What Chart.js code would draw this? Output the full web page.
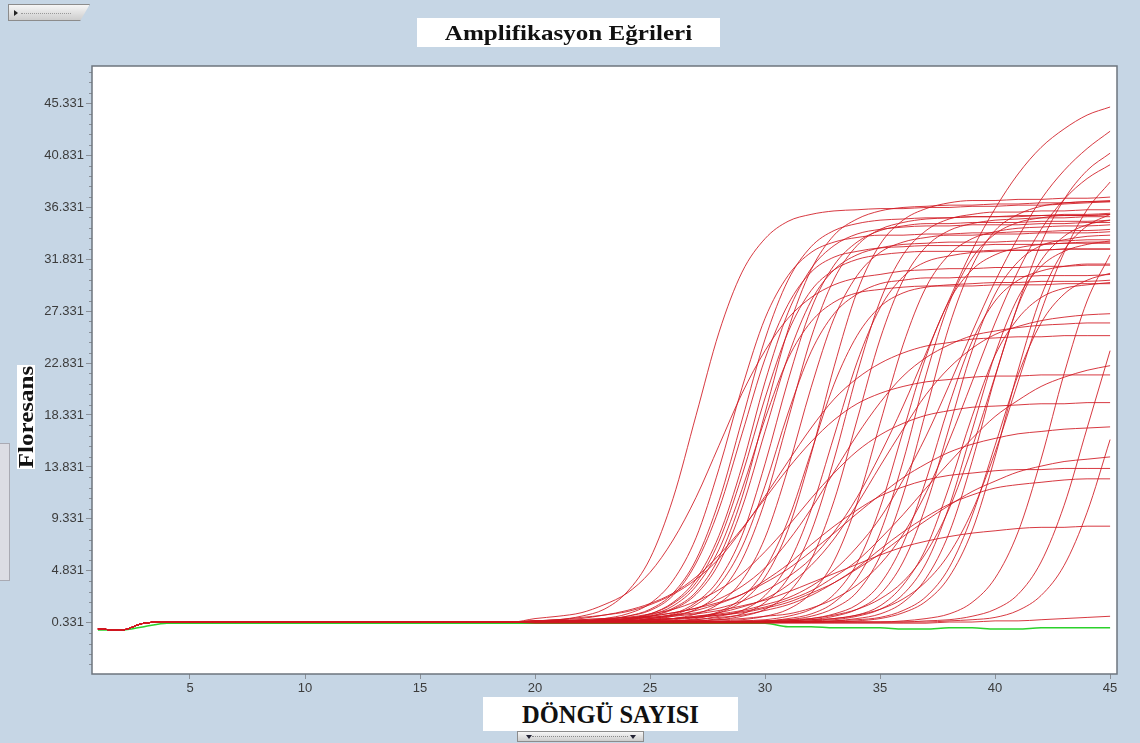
<!DOCTYPE html>
<html>
<head>
<meta charset="utf-8">
<script src="https://cdn.jsdelivr.net/npm/chart.js@4.4.1/dist/chart.umd.min.js"></script>
<style>
  html, body { margin: 0; padding: 0; }
  body {
    width: 1140px; height: 743px; overflow: hidden; position: relative;
    background: #c6d6e5; font-family: "Liberation Serif", "DejaVu Serif", serif;
  }
  #myChart { position: absolute; left: 0; top: 0; }
  .box { position: absolute; background: #fff; color: #111; font-weight: bold; text-align: center; white-space: nowrap; }
  #title { left: 417px; top: 18px; width: 303px; height: 29px; }
  #title span { display: inline-block; font-size: 22px; line-height: 30px; transform: scaleX(1.14); }
  #xlabel { left: 483px; top: 697px; width: 255px; height: 34px; font-size: 24.5px; line-height: 36px; }
  #ylabel { left: 17px; top: 365px; width: 18px; height: 104px; }
  #ylabel span {
    position: absolute; left: 50%; top: 50%; font-size: 20px;
    transform: translate(-50%, -50%) rotate(-90deg) scaleX(1.25);
  }
  .tab { position: absolute; background: linear-gradient(#f6f6f6, #cdcdcd); border: 1px solid #8c8c8c; }
  #topTab { left: 8px; top: 4px; width: 80px; height: 15px; clip-path: polygon(0 0, 100% 0, 88% 100%, 0 100%); }
  #topTab .arrow { position: absolute; left: 5px; top: 5px; width: 0; height: 0;
    border-top: 3px solid transparent; border-bottom: 3px solid transparent; border-left: 4px solid #222; }
  #topTab .dots { position: absolute; left: 12px; top: 8px; width: 50px; border-top: 1px dotted #999; }
  #bottomTab { left: 517px; top: 731px; width: 125px; height: 9px; }
  #bottomTab .arrow { position: absolute; top: 3px; width: 0; height: 0;
    border-left: 3px solid transparent; border-right: 3px solid transparent; border-top: 4px solid #223; }
  #bottomTab .dots { position: absolute; left: 14px; top: 4px; width: 96px; border-top: 1px dotted #888; }
  #sideBar { position: absolute; left: 0; top: 443px; width: 9px; height: 136px; background: #dcdde4; border: 1px solid #a9aab3; border-left: none; }
</style>
</head>
<body>
<canvas id="myChart" width="1140" height="743"></canvas>
<div class="tab" id="topTab"><div class="arrow"></div><div class="dots"></div></div>
<div class="box" id="title"><span>Amplifikasyon Eğrileri</span></div>
<div class="box" id="ylabel"><span>Floresans</span></div>
<div class="box" id="xlabel">DÖNGÜ SAYISI</div>
<div class="tab" id="bottomTab"><div class="arrow" style="left:8px"></div><div class="dots"></div><div class="arrow" style="left:112px"></div></div>
<div id="sideBar"></div>
<script>
// cycle numbers 1..45
const cycles = [1, 2, 3, 4, 5, 6, 7, 8, 9, 10, 11, 12, 13, 14, 15, 16, 17, 18, 19, 20, 21, 22, 23,
  24, 25, 26, 27, 28, 29, 30, 31, 32, 33, 34, 35, 36, 37, 38, 39, 40, 41, 42, 43, 44, 45];

// common flat start of every sample, cycles 1..19
const baselineStart = [-0.2, -0.3, 0.3, 0.4, 0.4, 0.4, 0.4, 0.4, 0.4, 0.4, 0.4, 0.4, 0.4, 0.4, 0.4, 0.4, 0.4, 0.4, 0.4];

// fluorescence of each sample for cycles 20..45
const sampleRuns = [
  [0.5, 0.6, 0.9, 1.5, 3.0, 5.9, 11.1, 18.3, 25.5, 30.7, 33.6, 35.1, 35.7, 36.0, 36.1, 36.2, 36.2, 36.3, 36.3, 36.4, 36.4, 36.5, 36.5, 36.6, 36.7, 36.8],
  [0.7, 0.9, 1.2, 1.9, 2.9, 4.7, 7.5, 11.2, 15.7, 20.2, 23.9, 26.7, 28.5, 29.6, 30.2, 30.5, 30.8, 30.9, 31.0, 31.0, 31.1, 31.1, 31.2, 31.2, 31.3, 31.3],
  [0.4, 0.5, 0.5, 0.7, 1.1, 2.0, 4.0, 7.7, 13.7, 20.7, 26.7, 30.4, 32.4, 33.3, 33.7, 33.9, 33.9, 34.0, 34.0, 34.1, 34.1, 34.2, 34.2, 34.3, 34.3, 34.4],
  [0.4, 0.4, 0.5, 0.6, 0.9, 1.4, 2.7, 5.5, 10.2, 16.7, 23.2, 27.9, 30.7, 32.0, 32.5, 32.8, 32.9, 33.0, 33.0, 33.0, 33.1, 33.1, 33.1, 33.2, 33.2, 33.2],
  [0.4, 0.4, 0.5, 0.6, 0.9, 1.5, 2.9, 5.8, 10.9, 17.9, 24.9, 30.0, 32.9, 34.3, 34.9, 35.2, 35.3, 35.4, 35.4, 35.5, 35.5, 35.5, 35.6, 35.6, 35.6, 35.7],
  [0.4, 0.4, 0.5, 0.5, 0.7, 1.0, 1.8, 3.5, 6.7, 11.9, 18.0, 23.2, 26.4, 28.1, 28.9, 29.2, 29.4, 29.5, 29.5, 29.5, 29.6, 29.6, 29.6, 29.7, 29.7, 29.7],
  [0.4, 0.4, 0.5, 0.5, 0.7, 1.1, 2.1, 4.1, 7.9, 13.9, 21.2, 27.2, 31.0, 33.0, 34.0, 34.4, 34.6, 34.7, 34.7, 34.8, 34.8, 34.8, 34.9, 34.9, 35.0, 35.0],
  [0.4, 0.4, 0.4, 0.5, 0.6, 0.9, 1.6, 3.0, 6.0, 11.2, 18.5, 25.7, 30.9, 33.9, 35.3, 36.0, 36.3, 36.4, 36.5, 36.5, 36.6, 36.6, 36.7, 36.7, 36.8, 36.8],
  [0.4, 0.4, 0.4, 0.5, 0.6, 0.9, 1.5, 2.8, 5.5, 10.3, 16.9, 23.4, 28.2, 30.9, 32.2, 32.8, 33.1, 33.2, 33.3, 33.3, 33.3, 33.4, 33.4, 33.4, 33.5, 33.5],
  [0.4, 0.4, 0.4, 0.5, 0.5, 0.7, 1.0, 1.9, 3.6, 6.9, 12.2, 18.5, 23.8, 27.1, 28.8, 29.7, 30.0, 30.2, 30.2, 30.3, 30.3, 30.3, 30.4, 30.4, 30.4, 30.5],
  [0.4, 0.4, 0.4, 0.4, 0.5, 0.6, 0.9, 1.5, 2.9, 5.8, 10.9, 17.9, 25.0, 30.1, 33.0, 34.4, 35.0, 35.3, 35.4, 35.5, 35.5, 35.6, 35.6, 35.7, 35.7, 35.8],
  [0.4, 0.4, 0.4, 0.4, 0.5, 0.5, 0.7, 1.1, 2.0, 4.0, 7.7, 13.7, 20.7, 26.7, 30.4, 32.4, 33.3, 33.7, 33.9, 33.9, 34.0, 34.0, 34.1, 34.1, 34.1, 34.2],
  [0.4, 0.4, 0.4, 0.4, 0.4, 0.5, 0.6, 0.8, 1.3, 2.5, 5.0, 9.2, 15.1, 21.0, 25.2, 27.7, 28.9, 29.4, 29.6, 29.7, 29.8, 29.8, 29.9, 29.9, 29.9, 30.0],
  [0.4, 0.4, 0.4, 0.4, 0.4, 0.5, 0.5, 0.7, 1.2, 2.2, 4.3, 8.4, 14.9, 22.5, 29.0, 33.1, 35.2, 36.2, 36.7, 36.9, 36.9, 37.0, 37.0, 37.1, 37.1, 37.2],
  [0.4, 0.4, 0.4, 0.4, 0.4, 0.4, 0.5, 0.6, 0.9, 1.4, 2.7, 5.4, 10.1, 16.5, 22.9, 27.6, 30.3, 31.6, 32.1, 32.4, 32.5, 32.6, 32.6, 32.7, 32.7, 32.7],
  [0.4, 0.4, 0.4, 0.4, 0.4, 0.4, 0.4, 0.5, 0.6, 0.9, 1.5, 2.9, 5.8, 10.9, 17.9, 24.9, 30.0, 32.9, 34.3, 34.9, 35.2, 35.3, 35.4, 35.4, 35.5, 35.5],
  [0.4, 0.4, 0.4, 0.4, 0.4, 0.4, 0.4, 0.4, 0.5, 0.6, 0.9, 1.5, 2.9, 5.7, 10.7, 17.6, 24.4, 29.4, 32.2, 33.6, 34.2, 34.5, 34.6, 34.7, 34.7, 34.8],
  [0.4, 0.4, 0.4, 0.4, 0.4, 0.4, 0.4, 0.4, 0.4, 0.5, 0.6, 0.9, 1.5, 2.8, 5.5, 10.3, 16.9, 23.4, 28.2, 30.9, 32.2, 32.8, 33.1, 33.2, 33.3, 33.3],
  [0.4, 0.4, 0.4, 0.4, 0.4, 0.4, 0.4, 0.4, 0.4, 0.4, 0.5, 0.6, 0.9, 1.6, 3.0, 6.1, 11.4, 18.7, 26.0, 31.2, 34.3, 35.7, 36.4, 36.7, 36.8, 36.9],
  [0.4, 0.4, 0.4, 0.4, 0.4, 0.4, 0.4, 0.4, 0.4, 0.4, 0.5, 0.5, 0.7, 1.1, 1.9, 3.7, 7.2, 12.7, 19.2, 24.7, 28.2, 30.0, 30.8, 31.2, 31.4, 31.4],
  [0.4, 0.4, 0.4, 0.4, 0.4, 0.4, 0.4, 0.4, 0.4, 0.4, 0.4, 0.5, 0.6, 0.9, 1.5, 2.8, 5.6, 10.5, 17.2, 23.9, 28.8, 31.6, 33.0, 33.5, 33.8, 33.9],
  [0.4, 0.4, 0.4, 0.4, 0.4, 0.4, 0.4, 0.4, 0.4, 0.4, 0.4, 0.4, 0.5, 0.7, 1.0, 1.8, 3.6, 6.8, 12.1, 18.2, 23.5, 26.7, 28.5, 29.3, 29.6, 29.8],
  [0.4, 0.4, 0.4, 0.4, 0.4, 0.4, 0.4, 0.4, 0.4, 0.4, 0.4, 0.4, 0.5, 0.6, 0.9, 1.5, 2.8, 5.5, 10.4, 17.0, 23.6, 28.5, 31.2, 32.5, 33.1, 33.4],
  [0.4, 0.4, 0.4, 0.4, 0.4, 0.4, 0.4, 0.4, 0.4, 0.4, 0.4, 0.4, 0.4, 0.5, 0.7, 1.1, 2.1, 4.2, 8.1, 14.3, 21.6, 27.8, 31.7, 33.8, 34.8, 35.2],
  [0.4, 0.4, 0.4, 0.4, 0.4, 0.4, 0.4, 0.4, 0.4, 0.4, 0.4, 0.4, 0.4, 0.5, 0.6, 0.8, 1.4, 2.6, 5.1, 9.6, 15.7, 21.8, 26.3, 28.8, 30.0, 30.6],
  [0.4, 0.4, 0.4, 0.4, 0.4, 0.4, 0.4, 0.4, 0.4, 0.4, 0.4, 0.4, 0.4, 0.4, 0.5, 0.7, 1.2, 2.2, 4.3, 8.3, 14.7, 22.2, 28.6, 32.6, 34.7, 35.7],
  [0.4, 0.4, 0.4, 0.4, 0.4, 0.4, 0.4, 0.4, 0.4, 0.4, 0.4, 0.5, 0.6, 0.7, 1.0, 1.5, 2.4, 3.9, 6.3, 10.0, 15.1, 21.2, 27.3, 32.4, 36.1, 38.5],
  [0.4, 0.4, 0.4, 0.4, 0.4, 0.4, 0.4, 0.4, 0.4, 0.4, 0.4, 0.4, 0.4, 0.4, 0.4, 0.4, 0.5, 0.7, 1.1, 2.1, 4.2, 8.2, 14.5, 21.9, 28.2, 32.2],
  [0.4, 0.4, 0.4, 0.4, 0.4, 0.4, 0.4, 0.4, 0.4, 0.4, 0.4, 0.4, 0.4, 0.4, 0.4, 0.4, 0.4, 0.5, 0.6, 0.9, 1.5, 2.8, 5.6, 10.5, 17.2, 23.9],
  [0.4, 0.4, 0.4, 0.4, 0.4, 0.4, 0.4, 0.4, 0.4, 0.4, 0.4, 0.4, 0.4, 0.4, 0.4, 0.4, 0.4, 0.4, 0.5, 0.6, 0.8, 1.4, 2.7, 5.3, 9.9, 16.2],
  [0.4, 0.4, 0.4, 0.4, 0.4, 0.4, 0.4, 0.4, 0.4, 0.4, 0.5, 0.6, 0.7, 1.0, 1.5, 2.4, 3.9, 6.4, 10.2, 15.5, 21.7, 27.9, 33.2, 37.0, 39.5, 41.0],
  [0.4, 0.4, 0.4, 0.5, 0.5, 0.7, 1.1, 2.1, 4.1, 7.9, 14.1, 21.3, 27.5, 31.3, 33.3, 34.3, 34.7, 34.9, 34.9, 35.0, 35.0, 35.0, 35.1, 35.1, 35.1, 35.2],
  [0.4, 0.4, 0.5, 0.5, 0.7, 1.1, 2.0, 3.8, 7.4, 13.1, 19.8, 25.5, 29.1, 30.9, 31.8, 32.2, 32.4, 32.5, 32.5, 32.5, 32.6, 32.6, 32.6, 32.7, 32.7, 32.7],
  [0.4, 0.4, 0.4, 0.4, 0.4, 0.4, 0.5, 0.5, 0.7, 1.1, 2.1, 4.2, 8.2, 14.5, 21.9, 28.2, 32.2, 34.3, 35.3, 35.7, 35.9, 35.9, 36.0, 36.0, 36.1, 36.1],
  [0.4, 0.4, 0.4, 0.4, 0.4, 0.4, 0.4, 0.4, 0.4, 0.5, 0.5, 0.7, 1.1, 2.1, 4.2, 8.1, 14.3, 21.8, 28.0, 31.9, 34.0, 35.0, 35.4, 35.6, 35.6, 35.7],
  // slower, low-plateau samples
  [0.5, 0.6, 0.8, 1.0, 1.4, 2.0, 2.9, 4.3, 6.2, 8.5, 11.1, 13.7, 16.0, 17.9, 19.3, 20.2, 20.8, 21.2, 21.4, 21.6, 21.7, 21.7, 21.8, 21.8, 21.8, 21.8],
  [0.5, 0.5, 0.6, 0.7, 0.8, 1.1, 1.5, 2.2, 3.2, 4.6, 6.5, 8.7, 11.1, 13.3, 15.2, 16.6, 17.6, 18.3, 18.7, 19.0, 19.1, 19.2, 19.3, 19.3, 19.4, 19.4],
  [0.4, 0.5, 0.5, 0.5, 0.6, 0.8, 1.0, 1.4, 2.0, 2.8, 4.0, 5.4, 7.1, 8.7, 10.1, 11.3, 12.1, 12.7, 13.1, 13.3, 13.5, 13.6, 13.6, 13.7, 13.7, 13.7],
  [0.5, 0.5, 0.6, 0.7, 0.8, 0.9, 1.2, 1.6, 2.1, 2.8, 3.8, 5.0, 6.5, 8.1, 9.8, 11.4, 12.9, 14.1, 15.1, 15.8, 16.3, 16.7, 16.9, 17.1, 17.2, 17.3],
  [0.4, 0.4, 0.4, 0.4, 0.5, 0.5, 0.5, 0.6, 0.8, 1.0, 1.4, 1.9, 2.7, 3.8, 5.1, 6.7, 8.2, 9.5, 10.6, 11.4, 12.0, 12.3, 12.5, 12.7, 12.8, 12.8],
  [0.4, 0.5, 0.5, 0.6, 0.6, 0.7, 0.9, 1.1, 1.4, 1.8, 2.3, 3.0, 3.8, 4.6, 5.4, 6.2, 6.9, 7.4, 7.8, 8.1, 8.3, 8.5, 8.6, 8.6, 8.7, 8.7],
  [0.4, 0.4, 0.5, 0.5, 0.5, 0.6, 0.7, 0.8, 1.0, 1.2, 1.6, 2.1, 2.9, 3.8, 5.0, 6.3, 7.8, 9.2, 10.5, 11.7, 12.6, 13.4, 13.9, 14.3, 14.5, 14.7],
  [0.4, 0.4, 0.5, 0.5, 0.5, 0.6, 0.7, 0.8, 1.0, 1.3, 1.7, 2.3, 3.1, 4.3, 5.7, 7.6, 9.7, 12.0, 14.2, 16.3, 18.2, 19.6, 20.8, 21.6, 22.2, 22.6],
  [0.4, 0.5, 0.5, 0.6, 0.7, 0.9, 1.2, 1.6, 2.4, 3.5, 5.1, 7.4, 10.2, 13.4, 16.6, 19.4, 21.7, 23.3, 24.4, 25.2, 25.6, 25.9, 26.1, 26.2, 26.3, 26.3],
  [0.5, 0.6, 0.7, 1.0, 1.3, 1.9, 2.8, 4.1, 5.9, 8.4, 11.3, 14.3, 17.2, 19.7, 21.5, 22.8, 23.7, 24.3, 24.6, 24.9, 25.0, 25.1, 25.1, 25.2, 25.2, 25.2],
  [0.4, 0.4, 0.4, 0.5, 0.5, 0.6, 0.7, 0.9, 1.2, 1.7, 2.4, 3.6, 5.3, 7.6, 10.6, 13.9, 17.1, 20.1, 22.4, 24.1, 25.3, 26.0, 26.5, 26.8, 27.0, 27.1],
  [0.5, 0.5, 0.5, 0.6, 0.7, 0.8, 1.0, 1.2, 1.6, 2.2, 3.1, 4.3, 5.9, 8.2, 11.2, 14.9, 19.1, 23.7, 28.3, 32.6, 36.2, 39.2, 41.5, 43.1, 44.3, 45.0],
  [0.4, 0.5, 0.5, 0.5, 0.5, 0.6, 0.7, 0.9, 1.1, 1.4, 1.9, 2.5, 3.5, 4.9, 6.9, 9.4, 12.7, 16.5, 20.9, 25.5, 29.9, 33.7, 37.0, 39.5, 41.4, 42.9],
  [0.4, 0.4, 0.4, 0.4, 0.4, 0.4, 0.5, 0.5, 0.6, 0.7, 0.9, 1.1, 1.6, 2.4, 3.6, 5.4, 8.0, 11.6, 16.1, 21.2, 26.3, 30.8, 34.4, 37.0, 38.8, 40.0],
  // barely rising sample
  [0.3, 0.3, 0.3, 0.3, 0.3, 0.3, 0.3, 0.3, 0.3, 0.3, 0.3, 0.3, 0.3, 0.3, 0.3, 0.3, 0.3, 0.3, 0.4, 0.4, 0.5, 0.5, 0.6, 0.7, 0.8, 0.9]
];

// negative control, all 45 cycles
const negativeControl = [-0.3, -0.3, 0.0, 0.3, 0.3, 0.3, 0.3, 0.3, 0.3, 0.3, 0.3, 0.3, 0.3, 0.3, 0.3,
  0.3, 0.3, 0.3, 0.3, 0.3, 0.3, 0.3, 0.3, 0.3, 0.3, 0.3, 0.3, 0.3, 0.3, 0.3,
  0.0, 0.0, -0.1, -0.1, -0.1, -0.2, -0.2, -0.1, -0.1, -0.2, -0.2, -0.1, -0.1, -0.1, -0.1];

const yTickValues = [0.331, 4.831, 9.331, 13.831, 18.331, 22.831, 27.331, 31.831, 36.331, 40.831, 45.331];
const yTickLabels = ["0.331", "4.831", "9.331", "13.831", "18.331", "22.831", "27.331", "31.831", "36.331", "40.831", "45.331"];
const xTickValues = [5, 10, 15, 20, 25, 30, 35, 40, 45];

const toPoints = (values) => values.map((v, i) => ({ x: cycles[i], y: v }));

const datasets = sampleRuns.map((run) => ({
  data: toPoints(baselineStart.concat(run)),
  borderColor: "rgba(208, 22, 32, 0.85)",
  borderWidth: 1,
  pointRadius: 0,
  cubicInterpolationMode: "monotone",
}));
// drawn last in the list so it sits under the red traces
datasets.push({
  data: toPoints(negativeControl),
  borderColor: "#2bd12b",
  borderWidth: 1.5,
  pointRadius: 0,
  cubicInterpolationMode: "monotone",
});

// white plot area, frame and small minor ticks on the y axis
const plotFrame = {
  id: "plotFrame",
  beforeDraw(chart) {
    const { ctx, chartArea: a } = chart;
    ctx.save();
    ctx.fillStyle = "#ffffff";
    ctx.fillRect(a.left, a.top, a.right - a.left, a.bottom - a.top);
    ctx.restore();
  },
  afterDraw(chart) {
    const { ctx, chartArea: a, scales } = chart;
    ctx.save();
    ctx.strokeStyle = "#8a9098";
    ctx.lineWidth = 1;
    const step = (yTickValues[1] - yTickValues[0]) / 5;
    for (let j = -5; j < 60; j++) {
      if (j % 5 === 0) continue;
      const py = scales.y.getPixelForValue(yTickValues[0] + j * step);
      if (py < a.top || py > a.bottom) continue;
      ctx.beginPath();
      ctx.moveTo(a.left - 3, Math.round(py) + 0.5);
      ctx.lineTo(a.left, Math.round(py) + 0.5);
      ctx.stroke();
    }
    ctx.strokeStyle = "#6d757e";
    ctx.lineWidth = 1.5;
    ctx.strokeRect(a.left, a.top, a.right - a.left, a.bottom - a.top);
    ctx.restore();
  },
};

const tickFont = { family: "Liberation Sans", size: 13 };

const config = {
  type: "line",
  data: { datasets: datasets },
  options: {
    responsive: false,
    animation: false,
    layout: { padding: { top: 66, right: 23, left: 0, bottom: 0 } },
    plugins: { legend: { display: false }, tooltip: { enabled: false } },
    scales: {
      x: {
        type: "linear",
        min: 0.74,
        max: 45.3,
        afterFit: (scale) => { scale.height = 69; },
        afterBuildTicks: (scale) => { scale.ticks = xTickValues.map((v) => ({ value: v })); },
        grid: { drawOnChartArea: false, drawTicks: true, tickLength: 5, tickColor: "#8a9098" },
        border: { display: false },
        ticks: { font: tickFont, color: "#3c3c3c", padding: 2, maxRotation: 0, autoSkip: false },
      },
      y: {
        type: "linear",
        min: -4.1,
        max: 48.55,
        afterFit: (scale) => { scale.width = 92; },
        afterBuildTicks: (scale) => { scale.ticks = yTickValues.map((v) => ({ value: v })); },
        grid: { drawOnChartArea: false, drawTicks: true, tickLength: 6, tickColor: "#8a9098" },
        border: { display: false },
        ticks: {
          font: tickFont,
          color: "#3c3c3c",
          padding: 2,
          autoSkip: false,
          callback: (value, index) => yTickLabels[index],
        },
      },
    },
  },
  plugins: [plotFrame],
};

const myChart = new Chart(document.getElementById("myChart"), config);
</script>
</body>
</html>
